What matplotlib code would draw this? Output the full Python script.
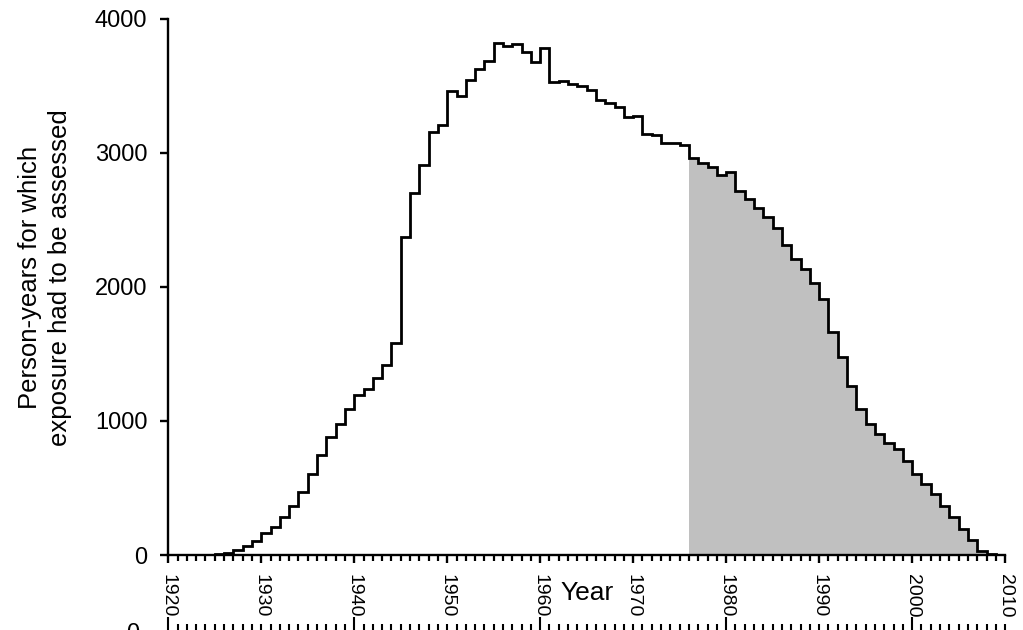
import matplotlib
matplotlib.use('Agg')
from matplotlib import pyplot as plt
from matplotlib.ticker import MultipleLocator

plt.rcParams['font.family'] = ['Liberation Sans', 'DejaVu Sans']

# person-years per calendar year, bins start at 1925
years = list(range(1925, 2009))
person_years = [
    5, 15, 37, 67, 102, 162, 206, 281, 368, 472,
    602, 744, 878, 978, 1087, 1194, 1236, 1318, 1415, 1580,
    2375, 2704, 2913, 3154, 3209, 3463, 3428, 3545, 3627, 3689,
    3818, 3799, 3813, 3756, 3677, 3781, 3532, 3537, 3515, 3502,
    3470, 3396, 3371, 3346, 3266, 3279, 3142, 3134, 3077, 3072,
    3060, 2965, 2923, 2893, 2836, 2856, 2716, 2654, 2587, 2520,
    2438, 2313, 2207, 2132, 2027, 1908, 1665, 1475, 1261, 1090,
    975, 903, 838, 788, 704, 604, 527, 455, 366, 286,
    192, 112, 32, 7,
]
shade_from = 1976
x_ticks = list(range(1920, 2011, 10))
y_ticks = [0, 1000, 2000, 3000, 4000]

edges = years + [years[-1] + 1]
k = years.index(shade_from)

fig = plt.figure(figsize=(10.23, 6.30), dpi=100)
ax = fig.add_axes([0.1645, 0.119, 0.818, 0.851])

# shaded part (from 1976 on)
ax.stairs(person_years[k:], edges[k:], fill=True, color='#c0c0c0', lw=0)
# step outline
ax.stairs(person_years, edges, baseline=0, color='black', lw=2.0, clip_on=False)

ax.set_xlim(1920, 2010)
ax.set_ylim(0, 4000)
ax.set_xticks(x_ticks)
ax.set_yticks(y_ticks)
ax.xaxis.set_minor_locator(MultipleLocator(1))

for s in ['top', 'right']:
    ax.spines[s].set_visible(False)
for s in ['left', 'bottom']:
    ax.spines[s].set_linewidth(1.7)

ax.tick_params(axis='y', length=6, width=1.7, pad=9, labelsize=17, colors='black')
ax.tick_params(axis='x', which='major', length=6, width=1.7, pad=8,
               labelsize=14, labelrotation=-90)
ax.tick_params(axis='x', which='minor', length=4, width=1.6)

ax.set_xlabel('Year', fontsize=19, va='center')
ax.xaxis.set_label_coords(0.5, -0.071)

fig.text(0.044, 0.559, 'Person-years for which\nexposure had to be assessed',
         rotation=90, ha='center', va='center', fontsize=18.5, linespacing=1.3)

# top of the next panel, cut off by the image border
ax2 = fig.add_axes([0.1645, -0.0016, 0.818, 0.05])
ax2.set_xlim(1920, 2010)
ax2.set_ylim(0, 4000)
ax2.set_xticks(list(range(1920, 2011, 20)))
ax2.xaxis.set_minor_locator(MultipleLocator(1))
ax2.set_yticks([0])
ax2.set_xticklabels([])
ax2.patch.set_visible(False)
for s in ['top', 'right', 'left']:
    ax2.spines[s].set_visible(False)
ax2.spines['bottom'].set_linewidth(1.5)
ax2.tick_params(axis='x', which='major', direction='in', length=10, width=1.5)
ax2.tick_params(axis='x', which='minor', direction='in', length=5, width=1.5)
ax2.tick_params(axis='y', length=0, pad=21, labelsize=17)

fig.savefig('out.png', dpi=100)
